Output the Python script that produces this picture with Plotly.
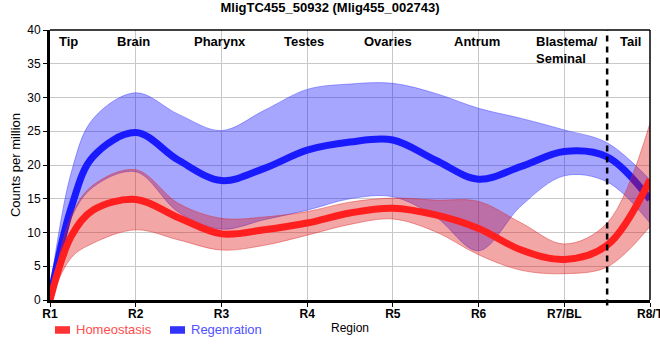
import plotly.graph_objects as go

# ---------------- data ----------------
pos = [0, 0.25, 0.5, 1, 1.5, 2, 2.5, 3, 3.5, 4, 4.5, 5, 5.5, 6, 6.5, 7]

regen_mean = [0.3, 13.8, 21.2, 24.8, 20.7, 17.7, 19.5, 22.2, 23.4, 23.7, 20.7, 17.9, 19.8, 22.0, 21.2, 14.9]
regen_upper = [1.5, 19.0, 26.8, 30.7, 27.5, 25.1, 28.1, 31.2, 32.0, 32.1, 30.6, 28.4, 26.9, 25.2, 23.3, 17.8]
regen_lower = [0.0, 12.2, 16.7, 19.0, 13.0, 10.5, 11.9, 13.3, 15.0, 15.3, 12.3, 7.3, 14.0, 18.4, 17.5, 11.4]

homeo_mean = [0.0, 9.5, 13.3, 14.9, 12.2, 9.8, 10.4, 11.4, 12.9, 13.6, 12.6, 10.6, 7.4, 6.0, 8.1, 17.8]
homeo_upper = [0.0, 12.5, 17.0, 19.3, 14.3, 12.1, 12.3, 13.1, 14.5, 15.1, 14.8, 14.6, 11.4, 8.3, 11.4, 26.2]
homeo_lower = [0.0, 6.3, 8.4, 10.4, 8.9, 7.4, 8.1, 9.6, 11.2, 12.0, 10.1, 6.7, 4.4, 3.9, 4.9, 10.9]

tick_pos = [0, 1, 2, 3, 4, 5, 6, 7]
tick_labels = ["R1", "R2", "R3", "R4", "R5", "R6", "R7/BL", "R8/T"]

region_names = ["Tip", "Brain", "Pharynx", "Testes", "Ovaries", "Antrum", "Blastema/<br>Seminal", "Tail"]
region_pos = [0.22, 0.97, 1.98, 2.96, 3.94, 4.98, 6.03, 6.77]

boundary_pos = 6.5
title_text = "MligTC455_50932 (Mlig455_002743)"
series_names = ["Homeostasis", "Regenration"]

# ---------------- figure ----------------
BLUE = "#1a1aff"
RED = "#ff1f1f"
BLUE_FILL = "rgba(0,0,255,0.35)"
RED_FILL = "rgba(220,20,20,0.38)"

fig = go.Figure()

def band(lower, upper, fill, edge, name):
    fig.add_trace(go.Scatter(x=pos, y=lower, mode="lines", line=dict(color=edge, width=1, shape="spline"),
                             showlegend=False, hoverinfo="skip", name=name + " lower"))
    fig.add_trace(go.Scatter(x=pos, y=upper, mode="lines", line=dict(color=edge, width=1, shape="spline"),
                             fill="tonexty", fillcolor=fill, showlegend=False, hoverinfo="skip",
                             name=name + " upper"))

band(regen_lower, regen_upper, BLUE_FILL, "rgba(60,60,255,0.45)", series_names[1])
fig.add_trace(go.Scatter(x=pos, y=regen_mean, mode="lines", name=series_names[1],
                         line=dict(color=BLUE, width=7, shape="spline"), showlegend=False))
band(homeo_lower, homeo_upper, RED_FILL, "rgba(220,40,40,0.45)", series_names[0])
fig.add_trace(go.Scatter(x=pos, y=homeo_mean, mode="lines", name=series_names[0],
                         line=dict(color=RED, width=7, shape="spline"), showlegend=False))

FONT = "Liberation Sans, Arial, sans-serif"

# region labels
for name, p in zip(region_names, region_pos):
    fig.add_annotation(x=p, y=1, xref="x", yref="paper", yanchor="top", yshift=-2,
                       text="<b>" + name + "</b>", showarrow=False, align="left",
                       font=dict(family=FONT, size=13, color="black"))

# boundary dashed line
fig.add_shape(type="line", x0=boundary_pos, x1=boundary_pos, xref="x", yref="paper", y0=-0.02, y1=1,
              line=dict(color="black", width=2.5, dash="6px,5px"))

# top and right frame (thin)
fig.add_shape(type="line", xref="paper", yref="paper", x0=0, x1=1, y0=1, y1=1,
              line=dict(color="black", width=1.5))
fig.add_shape(type="line", xref="paper", yref="paper", x0=1, x1=1, y0=0, y1=1,
              line=dict(color="black", width=1.5))

# custom legend
fig.add_shape(type="rect", xref="paper", yref="paper", x0=0.0083, x1=0.0333, y0=-0.097, y1=-0.125,
              fillcolor="#ff3333", line=dict(width=0))
fig.add_annotation(xref="paper", yref="paper", x=0.040, y=-0.111, xanchor="left", yanchor="middle",
                   text=series_names[0], showarrow=False, font=dict(family=FONT, size=13, color="#ff4d4d"))
fig.add_shape(type="rect", xref="paper", yref="paper", x0=0.2, x1=0.225, y0=-0.097, y1=-0.125,
              fillcolor="#3333ff", line=dict(width=0))
fig.add_annotation(xref="paper", yref="paper", x=0.2317, y=-0.111, xanchor="left", yanchor="middle",
                   text=series_names[1], showarrow=False, font=dict(family=FONT, size=13, color="#5050ff"))

fig.update_layout(
    width=660, height=360,
    margin=dict(l=50, r=10, t=30, b=60, autoexpand=False),
    paper_bgcolor="white", plot_bgcolor="white",
    showlegend=False,
    title=dict(text="<b>" + title_text + "</b>", x=0.5, xref="container", xanchor="center",
               y=0.978, yref="container", yanchor="middle",
               font=dict(family=FONT, size=13, color="black")),
    font=dict(family=FONT, color="black"),
)

fig.update_xaxes(range=[0, 7], tickvals=tick_pos, ticktext=["<b>" + t + "</b>" for t in tick_labels],
                 tickfont=dict(family=FONT, size=12, color="black"), automargin=False,
                 ticklabeloverflow="allow", ticklabelstandoff=-3,
                 showgrid=True, gridcolor="#c8c8c8", gridwidth=1,
                 showline=True, linecolor="black", linewidth=3,
                 ticks="outside", ticklen=4, tickcolor="black", tickwidth=1,
                 zeroline=False,
                 title=dict(text="Region", font=dict(family=FONT, size=12, color="black"), standoff=4))
fig.update_yaxes(range=[0, 40], tickvals=[0, 5, 10, 15, 20, 25, 30, 35, 40],
                 tickfont=dict(family=FONT, size=12, color="black"), automargin=False,
                 showgrid=True, gridcolor="#c8c8c8", gridwidth=1,
                 showline=True, linecolor="black", linewidth=3,
                 ticks="outside", ticklen=4, tickcolor="black", tickwidth=1,
                 zeroline=False,
                 title=dict(text="Counts per million", font=dict(family=FONT, size=13, color="black"),
                            standoff=4))

fig.write_html("out.html", config={"displayModeBar": False},
               post_script="document.body.style.margin='0';document.body.style.overflow='hidden';")
